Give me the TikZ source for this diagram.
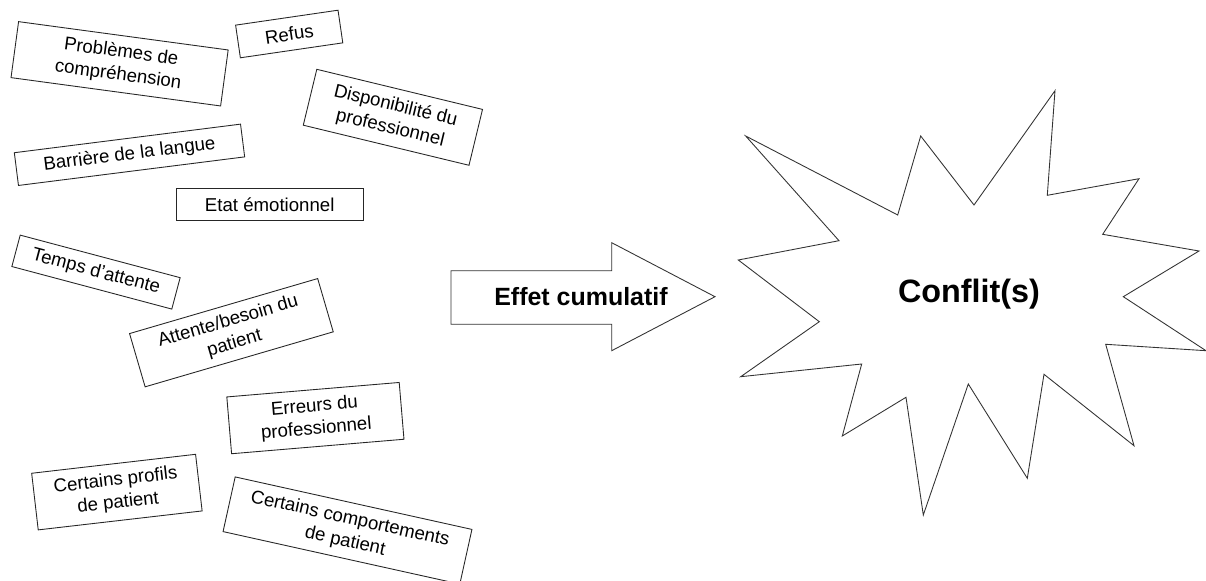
\documentclass[tikz,border=0pt]{standalone}
\usepackage{fontspec}
\setmainfont{Liberation Sans}

\begin{document}
\begin{tikzpicture}[x=0.2mm,y=-0.2mm,
    facteur/.style={draw=black!85,line width=0.5pt,fill=white,align=center,inner sep=0pt,
      font=\fontsize{10.6}{13}\selectfont},
    forme/.style={draw=black!80,line width=0.5pt,line join=miter}]
    \useasboundingbox (0,0) rectangle (1206,581);
		\node[facteur,rotate=-7.7,minimum width=42.3mm,minimum height=11.3mm] (pb) at (119.6,63.8) {Problèmes de\\compréhension};
		\node[facteur,rotate=8.3,minimum width=20.7mm,minimum height=6.6mm] (refus) at (289.2,34) {Refus};
		\node[facteur,rotate=-13.6,minimum width=34.1mm,minimum height=11.5mm] (dispo) at (392.9,117.3) {Disponibilité du\\professionnel};
		\node[facteur,rotate=7.2,minimum width=45.6mm,minimum height=6.6mm] (langue) at (129.5,154.8) {Barrière de la langue};
		\node[facteur,minimum width=37.5mm,minimum height=6.5mm] (etat) at (269.7,204.5) {Etat émotionnel};
		\node[facteur,rotate=-14.9,minimum width=33.1mm,minimum height=6.5mm] (temps) at (96,272.1) {Temps d’attente};
		\node[facteur,rotate=16.3,minimum width=39.2mm,minimum height=11.1mm] (besoin) at (231.4,332.7) {Attente/besoin du\\patient};
		\node[facteur,rotate=4.8,minimum width=34.6mm,minimum height=11.4mm] (erreurs) at (315.4,418.1) {Erreurs du\\professionnel};
		\node[facteur,rotate=6.6,minimum width=33mm,minimum height=11.4mm] (profils) at (116.9,492.1) {Certains profils\\de patient};
		\node[facteur,rotate=-12.5,minimum width=48.5mm,minimum height=11.2mm] (compt) at (347.5,530.5) {Certains comportements\\de patient};
		\draw[forme] (451,270.7) -- (611.7,270.7) -- (611.7,242.7) -- (715,296.7) -- (611.7,350.7) -- (611.7,324.3) -- (451,324.3) -- cycle;
		\node[font=\fontsize{14.2}{17}\selectfont\bfseries] (effet) at (581,297) {Effet cumulatif};
		\draw[forme] (745.7,136) -- (897.7,215) -- (920.7,136) -- (974,205) -- (1055,90.7) -- (1047.3,195.3)
		  -- (1139,178.7) -- (1102.7,234.3) -- (1199,251) -- (1123.3,296.7) -- (1206,350.7) -- (1105.7,344.3)
		  -- (1134,445.7) -- (1044,374.3) -- (1027.3,478.3) -- (968.3,384) -- (923.3,515) -- (906,397.3)
		  -- (842.3,436) -- (861.7,364) -- (740.7,376.7) -- (819.3,321.7) -- (738.3,260) -- (839,240.7) -- cycle;
		\node[font=\fontsize{18.4}{22}\selectfont\bfseries] (conflit) at (969,294) {Conflit(s)};
\end{tikzpicture}
\end{document}
